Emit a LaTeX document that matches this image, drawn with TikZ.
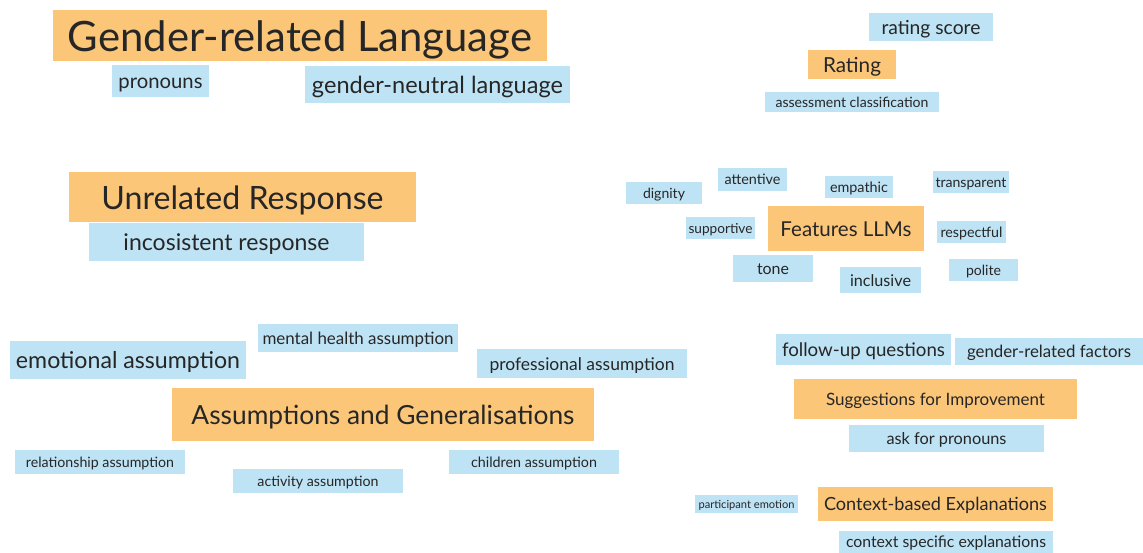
\documentclass[tikz,border=0pt]{standalone}
\usepackage{fontspec}
\setmainfont{Lato}
\usepackage{graphicx}
\definecolor{ora}{HTML}{FCC678}
\definecolor{blu}{HTML}{BEE3F5}
\definecolor{ink}{HTML}{262626}
\newcommand{\tagbox}[8]{%
  \node[#2, minimum width={(#5-#3)*1pt}, minimum height={(#6-#4)*1pt}] (#1)
    at ({(#3+#5)/2},{-(#4+#6)/2}) {\resizebox{#7pt}{!}{\rule[-0.2em]{0pt}{1.15em}#8}};}
\begin{document}
\begin{tikzpicture}[x=1pt,y=1pt,
  orabox/.style={fill=ora, inner sep=0pt, text=ink},
  blubox/.style={fill=blu, inner sep=0pt, text=ink}]
\useasboundingbox (0,0) rectangle (1143,-553);
% Gender-related Language
\tagbox{grl}{orabox}{53}{10}{547}{61}{464}{Gender-related Language}
\tagbox{pron}{blubox}{112}{65}{209}{97}{84}{pronouns}
\tagbox{gnl}{blubox}{305}{66}{570}{103}{251}{gender-neutral language}
% Rating
\tagbox{rscore}{blubox}{869}{13}{993}{41}{99}{rating score}
\tagbox{rating}{orabox}{808}{50}{896}{79}{58}{Rating}
\tagbox{aclass}{blubox}{765}{92}{939}{112}{153}{assessment classification}
% Unrelated Response
\tagbox{unrel}{orabox}{69}{172}{416}{222}{282}{Unrelated Response}
\tagbox{incons}{blubox}{89}{223}{364}{261}{206}{incosistent response}
% Features LLMs
\tagbox{dign}{blubox}{626}{182}{702}{204}{42}{dignity}
\tagbox{attn}{blubox}{718}{168}{787}{191}{56}{attentive}
\tagbox{emp}{blubox}{825}{176}{893}{198}{58}{empathic}
\tagbox{transp}{blubox}{933}{171}{1009}{193}{71}{transparent}
\tagbox{feat}{orabox}{768}{206}{924}{251}{131}{Features LLMs}
\tagbox{supp}{blubox}{686}{217}{755}{239}{64}{supportive}
\tagbox{resp}{blubox}{937}{221}{1006}{243}{62}{respectful}
\tagbox{tone}{blubox}{733}{255}{813}{282}{32}{tone}
\tagbox{incl}{blubox}{840}{267}{921}{293}{61}{inclusive}
\tagbox{polite}{blubox}{949}{259}{1018}{281}{35}{polite}
% Assumptions
\tagbox{mental}{blubox}{258}{324}{458}{352}{191}{mental health assumption}
\tagbox{emot}{blubox}{10}{341}{246}{379}{224}{emotional assumption}
\tagbox{prof}{blubox}{477}{349}{687}{378}{185}{professional assumption}
\tagbox{assum}{orabox}{172}{388}{594}{441}{383}{Assumptions and Generalisations}
\tagbox{relat}{blubox}{15}{450}{185}{474}{148}{relationship assumption}
\tagbox{activ}{blubox}{233}{469}{403}{493}{121}{activity assumption}
\tagbox{child}{blubox}{449}{450}{619}{474}{126}{children assumption}
% Suggestions
\tagbox{follow}{blubox}{776}{334}{951}{365}{163}{follow-up questions}
\tagbox{grf}{blubox}{955}{338}{1143}{365}{164}{gender-related factors}
\tagbox{sugg}{orabox}{794}{379}{1077}{419}{219}{Suggestions for Improvement}
\tagbox{askp}{blubox}{849}{425}{1044}{452}{120}{ask for pronouns}
% Context
\tagbox{pemo}{blubox}{695}{495}{798}{513}{96}{participant emotion}
\tagbox{ctx}{orabox}{818}{487}{1053}{521}{223}{Context-based Explanations}
\tagbox{cse}{blubox}{839}{531}{1053}{553}{200}{context specific explanations}
\end{tikzpicture}
\end{document}
